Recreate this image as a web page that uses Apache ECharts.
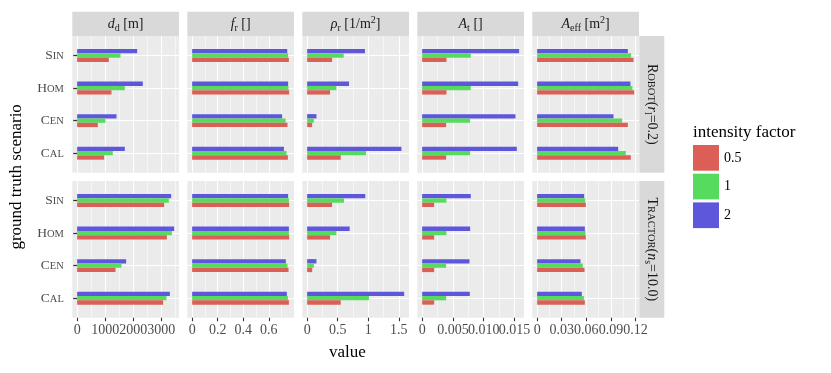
<!DOCTYPE html>
<html>
<head>
<meta charset="utf-8">
<script src="https://cdn.jsdelivr.net/npm/echarts@6/dist/echarts.min.js"></script>
<style>
  html, body { margin: 0; padding: 0; background: #fff; }
  #chart { width: 831px; height: 373px; }
</style>
</head>
<body>
<div id="chart"></div>
<script>
const scenarios = ['SIN', 'HOM', 'CEN', 'CAL'];
const factors = ['0.5', '1', '2'];
const factorColors = ['#DB5F57', '#57DB5E', '#5E57DB'];

// values per scenario (SIN, HOM, CEN, CAL)
const ddRobot05 = [1131, 1226, 738, 964];
const ddRobot1 = [1548, 1702, 1012, 1274];
const ddRobot2 = [2143, 2345, 1405, 1702];
const ddTractor05 = [3107, 3202, 1369, 3071];
const ddTractor1 = [3274, 3381, 1583, 3190];
const ddTractor2 = [3357, 3464, 1750, 3310];

const frRobot05 = [0.757, 0.759, 0.746, 0.749];
const frRobot1 = [0.751, 0.754, 0.731, 0.738];
const frRobot2 = [0.744, 0.751, 0.704, 0.718];
const frTractor05 = [0.759, 0.759, 0.754, 0.757];
const frTractor1 = [0.757, 0.757, 0.746, 0.749];
const frTractor2 = [0.751, 0.757, 0.733, 0.741];

const rhoRobot05 = [0.408, 0.375, 0.082, 0.549];
const rhoRobot1 = [0.598, 0.478, 0.109, 0.962];
const rhoRobot2 = [0.946, 0.685, 0.152, 1.543];
const rhoTractor05 = [0.408, 0.375, 0.082, 0.549];
const rhoTractor1 = [0.603, 0.478, 0.109, 1.011];
const rhoTractor2 = [0.951, 0.696, 0.152, 1.587];

const atRobot05 = [0.00395, 0.00395, 0.0039, 0.0039];
const atRobot1 = [0.0079, 0.0079, 0.0078, 0.0078];
const atRobot2 = [0.01576, 0.0156, 0.01516, 0.01538];
const atTractor05 = [0.00195, 0.00195, 0.00195, 0.00195];
const atTractor1 = [0.00395, 0.00395, 0.0039, 0.0039];
const atTractor2 = [0.0079, 0.0078, 0.00769, 0.00774];

const aeffRobot05 = [0.1176, 0.1184, 0.1107, 0.1143];
const aeffRobot1 = [0.1147, 0.1163, 0.1037, 0.1082];
const aeffRobot2 = [0.1107, 0.1139, 0.0932, 0.0989];
const aeffTractor05 = [0.0594, 0.0594, 0.0578, 0.0582];
const aeffTractor1 = [0.0586, 0.059, 0.0557, 0.057];
const aeffTractor2 = [0.0574, 0.0582, 0.0529, 0.0545];

// tick values and labels
const ticksDd = [0, 1000, 2000, 3000];
const labelsDd = ['0', '1000', '2000', '3000'];
const ticksFr = [0, 0.2, 0.4, 0.6];
const labelsFr = ['0', '0.2', '0.4', '0.6'];
const ticksRho = [0, 0.5, 1, 1.5];
const labelsRho = ['0', '0.5', '1', '1.5'];
const ticksAt = [0, 0.005, 0.01, 0.015];
const labelsAt = ['0', '0.005', '0.010', '0.015'];
const ticksAeff = [0, 0.03, 0.06, 0.09, 0.12];
const labelsAeff = ['0', '0.03', '0.06', '0.09', '0.12'];

const SERIF = "'Liberation Serif', 'DejaVu Serif', serif";

const columns = [
  { title: '{i|d}{sub|d} {r|[m]}', ticks: ticksDd, labels: labelsDd,
    rows: [[ddRobot05, ddRobot1, ddRobot2], [ddTractor05, ddTractor1, ddTractor2]] },
  { title: '{i|f}{sub|r} {r|[]}', ticks: ticksFr, labels: labelsFr,
    rows: [[frRobot05, frRobot1, frRobot2], [frTractor05, frTractor1, frTractor2]] },
  { title: '{i|ρ}{sub|r} {r|[1/m}{sup|2}{r|]}', ticks: ticksRho, labels: labelsRho,
    rows: [[rhoRobot05, rhoRobot1, rhoRobot2], [rhoTractor05, rhoTractor1, rhoTractor2]] },
  { title: '{i|A}{sub|t} {r|[]}', ticks: ticksAt, labels: labelsAt,
    rows: [[atRobot05, atRobot1, atRobot2], [atTractor05, atTractor1, atTractor2]] },
  { title: '{i|A}{sub|eff} {r|[m}{sup|2}{r|]}', ticks: ticksAeff, labels: labelsAeff,
    rows: [[aeffRobot05, aeffRobot1, aeffRobot2], [aeffTractor05, aeffTractor1, aeffTractor2]] },
];
const rowTitles = [
  '{b|R}{s|OBOT}{r|(}{i|r}{sub|l}{r|=0.2)}',
  '{b|T}{s|RACTOR}{r|(}{i|n}{sub|s}{r|=10.0)}',
];

// token "height" sets where a bottom/top aligned piece sits inside an 18px line
const stripRich = {
  r: { fontSize: 14, fontFamily: SERIF, color: '#1A1A1A', lineHeight: 18 },
  i: { fontSize: 14, fontFamily: SERIF, color: '#1A1A1A', lineHeight: 18, fontStyle: 'italic' },
  sub: { fontSize: 10, fontFamily: SERIF, color: '#1A1A1A', height: 9.6, verticalAlign: 'bottom' },
  sup: { fontSize: 10, fontFamily: SERIF, color: '#1A1A1A', height: 10.4, verticalAlign: 'top' },
  b: { fontSize: 14, fontFamily: SERIF, color: '#1A1A1A', lineHeight: 18 },
  s: { fontSize: 10.5, fontFamily: SERIF, color: '#1A1A1A', height: 15.8, verticalAlign: 'bottom' },
};
const catRich = {
  b: { fontSize: 13.5, fontFamily: SERIF, color: '#4D4D4D', lineHeight: 18 },
  s: { fontSize: 10.5, fontFamily: SERIF, color: '#4D4D4D', height: 16, verticalAlign: 'bottom' },
};

// panel layout
const PX0 = 72.3, PSTEP = 115, PW = 106.7;
const PY = [36, 181], PH = 136.7;
const band = PH / 4.2;

const grids = [], xAxes = [], yAxes = [], series = [];

const hiddenParts = {
  axisLine: { show: false }, axisTick: { show: false },
  axisLabel: { show: false }, splitLine: { show: false },
};
const tickLabelStyle = { fontSize: 14, fontFamily: SERIF, color: '#4D4D4D' };

columns.forEach((col, c) => {
  const M = Math.max(...col.rows.flat(2));
  const lo = -0.05 * M, hi = 1.05 * M;
  const step = col.ticks[1] - col.ticks[0];
  const minors = col.ticks.map((t) => t + step / 2).filter((v) => v <= hi);
  const fmt = (v) => {
    let best = 0;
    col.ticks.forEach((t, k) => { if (Math.abs(t - v) < Math.abs(col.ticks[best] - v)) best = k; });
    return col.labels[best];
  };
  // labels are split over two axes so touching labels are all kept
  const evenTicks = col.ticks.filter((t, k) => k % 2 === 0);
  const oddTicks = col.ticks.filter((t, k) => k % 2 === 1);

  [0, 1].forEach((r) => {
    const left = PX0 + c * PSTEP, top = PY[r];

    // panel background + grid lines
    const bg = grids.length;
    grids.push({ left, top, width: PW, height: PH, show: true, backgroundColor: '#EBEBEB', borderWidth: 0 });
    xAxes.push({
      gridIndex: bg, type: 'value', min: lo, max: hi, position: 'bottom',
      axisLine: { show: false },
      axisTick: { show: r === 1, customValues: col.ticks, length: 3.5, lineStyle: { color: '#333', width: 1.1 } },
      axisLabel: Object.assign({
        show: r === 1, customValues: evenTicks, formatter: fmt, margin: 6,
        showMinLabel: true, showMaxLabel: true, hideOverlap: false,
      }, tickLabelStyle),
      splitLine: { show: true, lineStyle: { color: '#fff', width: 1.1 } },
    });
    xAxes.push({
      gridIndex: bg, type: 'value', min: lo, max: hi, position: 'top',
      axisLine: { show: false },
      axisTick: { show: false, customValues: minors },
      axisLabel: { show: false },
      splitLine: { show: true, lineStyle: { color: '#fff', width: 0.55 } },
      name: r === 0 ? col.title : '', nameLocation: 'middle', nameGap: 12,
      nameTextStyle: { verticalAlign: 'middle', fontSize: 14, fontFamily: SERIF, color: '#1A1A1A', rich: stripRich },
    });
    yAxes.push(Object.assign({
      gridIndex: bg, type: 'value', min: 0, max: 1, position: 'right',
      name: c === 4 ? rowTitles[r] : '', nameLocation: 'middle', nameRotate: -90, nameGap: 13,
      nameTextStyle: { verticalAlign: 'middle', fontSize: 14, fontFamily: SERIF, color: '#1A1A1A', rich: stripRich },
    }, hiddenParts));

    // bars
    const dg = grids.length;
    grids.push({ left, top: top + 0.6 * band, width: PW, height: 3 * band });
    const xi = xAxes.length;
    xAxes.push({
      gridIndex: dg, type: 'value', min: lo, max: hi, position: 'bottom', offset: 0.6 * band,
      axisLine: { show: false }, axisTick: { show: false }, splitLine: { show: false },
      axisLabel: Object.assign({
        show: r === 1, customValues: oddTicks, formatter: fmt, margin: 6,
        showMinLabel: true, showMaxLabel: true, hideOverlap: false,
      }, tickLabelStyle),
    });
    const yi = yAxes.length;
    yAxes.push({
      gridIndex: dg, type: 'category', data: scenarios, inverse: true, boundaryGap: false,
      axisLine: { show: false },
      axisTick: { show: c === 0, length: 4, lineStyle: { color: '#333', width: 1.2 } },
      axisLabel: {
        show: c === 0, margin: 8.5,
        formatter: (v) => '{b|' + v[0] + '}{s|' + v.slice(1) + '}', rich: catRich,
      },
      splitLine: { show: true, lineStyle: { color: '#fff', width: 1.1 } },
    });
    [2, 1, 0].forEach((k) => {
      series.push({
        type: 'bar', name: factors[k], xAxisIndex: xi, yAxisIndex: yi,
        data: col.rows[r][k], barWidth: 4.33, barGap: '0%', clip: false, silent: true,
        itemStyle: { color: factorColors[k] },
      });
    });
  });
});

// strip backgrounds
columns.forEach((col, c) => {
  grids.push({ left: PX0 + c * PSTEP, top: 11.7, width: PW, height: 24.3, show: true, backgroundColor: '#D9D9D9', borderWidth: 0 });
});
PY.forEach((top) => {
  grids.push({ left: 639.3, top, width: 25, height: PH, show: true, backgroundColor: '#D9D9D9', borderWidth: 0 });
});

// axis titles
const fg = grids.length;
grids.push({ left: 56, top: 36, width: 582.7, height: 281.7 });
xAxes.push(Object.assign({
  gridIndex: fg, type: 'value', name: 'value', nameLocation: 'middle', nameGap: 35,
  nameTextStyle: { verticalAlign: 'middle', fontSize: 17, fontFamily: SERIF, color: '#000' },
}, hiddenParts));
yAxes.push(Object.assign({
  gridIndex: fg, type: 'value', name: 'ground truth scenario', nameLocation: 'middle', nameGap: 39, nameRotate: 90,
  nameTextStyle: { verticalAlign: 'middle', fontSize: 17, fontFamily: SERIF, color: '#000' },
}, hiddenParts));

const chart = echarts.init(document.getElementById('chart'));
chart.setOption({
  animation: false,
  backgroundColor: '#fff',
  title: {
    text: 'intensity factor', left: 693, top: 124, padding: 0,
    textStyle: { fontSize: 17, fontWeight: 'normal', fontFamily: SERIF, color: '#000' },
  },
  legend: {
    data: factors, orient: 'vertical', left: 693, top: 145, padding: 0,
    itemWidth: 26, itemHeight: 25.7, itemGap: 3, icon: 'rect', selectedMode: false,
    textStyle: { fontSize: 14, fontFamily: SERIF, color: '#000' },
  },
  grid: grids,
  xAxis: xAxes,
  yAxis: yAxes,
  series,
});
</script>
</body>
</html>
